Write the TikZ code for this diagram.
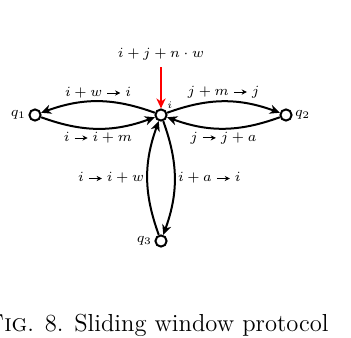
\documentclass[tikz,border=0pt]{standalone}
\usetikzlibrary{arrows.meta}
\newcommand{\myarr}{\mathrel{\tikz[baseline=-0.55ex]\draw[line width=0.45pt,-{Stealth[length=2.6pt,width=2.6pt]}](0pt,0pt)--(6.5pt,0pt);}}
\begin{document}
\begin{tikzpicture}[x=0.5pt,y=-0.5pt,
  state/.style={circle,draw,line width=1pt,minimum size=5.6pt,inner sep=0pt,fill=white},
  trans/.style={line width=1pt,-{Stealth[length=5pt,width=4.6pt,inset=1.6pt]}},
  lab/.style={font=\scriptsize,inner sep=1.5pt},
  every label/.style={font=\scriptsize,inner sep=1pt}]
\useasboundingbox (0,0) rectangle (351,337);
\node[state,label=left:$q_1$] (q1) at (35,115) {};
\node[state,label=right:$q_2$] (q2) at (286,115) {};
\node[state,label=left:$q_3$] (q3) at (161,241) {};
\node[state,label={[font=\tiny,inner sep=0.5pt]45:$i$}] (i) at (161,115) {};
\coordinate (top) at (161,67);
\node[lab,anchor=south] (init) at (161,64) {$i+j+n\cdot w$};
\draw[trans,red] (top) -- (i);
\draw[trans] (i) to[bend right=20] node[lab,above] {$i+w \myarr i$} (q1);
\draw[trans] (q1) to[bend right=20] node[lab,below] {$i \myarr i+m$} (i);
\draw[trans] (i) to[bend left=20] node[lab,above] {$j+m \myarr j$} (q2);
\draw[trans] (q2) to[bend left=20] node[lab,below] {$j \myarr j+a$} (i);
\draw[trans] (q3) to[bend left=20] node[lab,left] {$i \myarr i+w$} (i);
\draw[trans] (i) to[bend left=20] node[lab,right] {$i+a \myarr i$} (q3);
\node[anchor=base east,inner sep=0pt,font=\fontsize{12.3}{14}\selectfont] (cap) at (329,331) {\textsc{Fig}. 8. Sliding window protocol};
\end{tikzpicture}
\end{document}
